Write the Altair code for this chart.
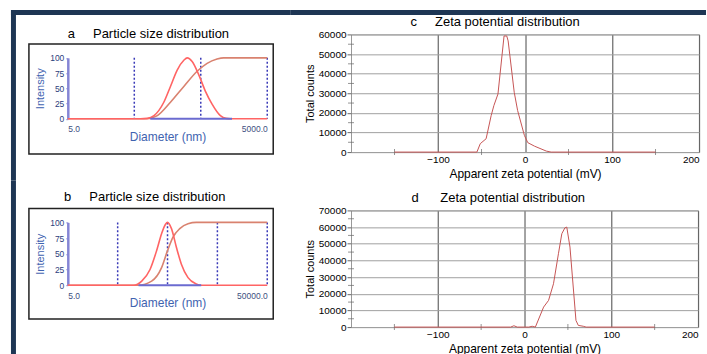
import altair as alt
import pandas as pd

# ---------------- data ----------------
# panel a: particle size distribution (intensity %, diameter nm)
a_dist_d = [5, 62, 78, 99, 139, 175, 221, 278, 312, 371, 467, 588, 740, 986, 1200, 1393, 5000]
a_dist_i = [0, 0, 0.5, 5, 27, 53, 80, 96, 100, 94, 72, 45, 24, 5, 0.5, 0, 0]
a_cum_d = [5, 78, 111, 175, 278, 441, 623, 879, 1106, 5000]
a_cum_i = [0, 0, 5, 27, 53, 78, 91, 98, 100, 100]
a_blue_d = [87, 1475]
a_marks = [50, 500, 5000]
a_domain = [5, 5000]

# panel b
b_dist_d = [5, 104, 125, 152, 223, 302, 380, 456, 500, 600, 755, 948, 1288, 1883, 2368, 50000]
b_dist_i = [0, 0, 1.5, 6.5, 25, 55, 82, 97, 100, 90, 60, 33.5, 12, 2, 0, 0]
b_cum_d = [5, 131, 240, 380, 500, 648, 879, 1288, 1883, 50000]
b_cum_i = [0, 0, 6.5, 28, 55, 77, 90, 98, 100, 100]
b_blue_d = [131, 2368]
b_marks = [50, 500, 5000, 50000]
b_domain = [5, 50000]

# panel c: zeta potential distribution
c_mv = [-150, -55.3, -51.4, -44.7, -38.9, -35.8, -31.1, -24.1, -21.0, -19.4, -12.4, -8.5, -0.7, 3.2, 11.0, 24.5, 30, 150]
c_counts = [0, 0, 4300, 6800, 18600, 23700, 29600, 59200, 59200, 56700, 30500, 21200, 8500, 4800, 3000, 500, 0, 0]

# panel d
d_mv = [-150, -16, -12.2, -8.4, 5, 8.8, 12.5, 22, 27.7, 33.4, 39.1, 43, 46.5, 48.7, 52.4, 59.3, 62, 67.7, 71, 150]
d_counts = [0, 0, 800, 0, 0, 500, 0, 12000, 16000, 26000, 44000, 56000, 59500, 60000, 48000, 4000, 1000, 500, 0, 0]

zeta_ticks = [-100, 0, 100, 200]
zeta_minor = [-150, -50, 50, 150]

NB = "\u00a0"
FONT = "Liberation Sans"
NAVY = "#1e3654"
one = pd.DataFrame({"k": [0]})


def prect(x, x2, y, y2, **kw):
    """decoration rectangle in panel pixel coordinates"""
    return alt.Chart(one).mark_rect(**kw).encode(
        x=alt.value(x), x2=alt.value(x2), y=alt.value(y), y2=alt.value(y2))


def ptext(txt, x, y):
    return alt.Chart(one).mark_text(align="left", baseline="middle", fontSize=13,
                                    color="black", font=FONT).encode(
        x=alt.value(x), y=alt.value(y), text=alt.value(txt))


def size_panel(title, tx, ty, dist_d, dist_i, cum_d, cum_i, blue_d, marks, dom,
               w, h, top, frame_y, deco):
    # the view is h tall; the plot itself occupies y in [top, h]
    xs = alt.Scale(type="log", domain=dom, nice=False)
    ys = alt.Scale(domain=[0, 100], nice=False, range=[h, top])
    xenc = alt.X("d:Q", scale=xs, axis=alt.Axis(
        values=dom, format=".1f", labelFlush=True, labelFontSize=8.5, labelColor="#3d4f80",
        labelPadding=6, domain=False, ticks=False, grid=False, title="Diameter (nm)",
        titleColor="#3f63b0", titleFontSize=12, titleFontWeight="normal", titlePadding=-2))
    yenc = alt.Y("v:Q", scale=ys, axis=alt.Axis(
        values=[0, 25, 50, 75, 100], domainColor="#8585d5", domainWidth=2.5, tickColor="#8585d5",
        tickSize=2, labelFontSize=8.5, labelColor="#2c3d7c", labelPadding=2, grid=False,
        title="Intensity", titleColor="#3f63b0", titleFontSize=11, titleFontWeight="normal",
        titlePadding=4.5))
    frame = prect(-39, 206, frame_y[0], frame_y[1], fill="transparent", stroke="#222", strokeWidth=1.5)
    rules = alt.Chart(pd.DataFrame({"d": marks, "v": [100] * len(marks), "v0": [0] * len(marks)})).mark_rule(
        color="#3a3ab8", strokeDash=[2, 2], strokeWidth=1.5).encode(x=xenc, y=yenc, y2="v0:Q")
    cum = alt.Chart(pd.DataFrame({"d": cum_d, "v": cum_i})).mark_line(
        color="#d9826f", strokeWidth=1.6, interpolate="monotone").encode(x=xenc, y=yenc)
    dist = alt.Chart(pd.DataFrame({"d": dist_d, "v": dist_i})).mark_line(
        color="#ff6464", strokeWidth=1.6, interpolate="monotone").encode(x=xenc, y=yenc)
    blue = alt.Chart(pd.DataFrame({"d": blue_d, "v": [0, 0]})).mark_line(
        color="#6b6bd0", strokeWidth=2).encode(x=xenc, y=yenc)
    ttl = ptext(title, tx, ty)
    return alt.layer(*deco, frame, rules, cum, dist, blue, ttl).properties(width=w, height=h)


def zeta_panel(title, tx, ty, mv, counts, ymax, w, h, deco):
    xs = alt.Scale(domain=[-200, 200], nice=False, zero=False)
    ys = alt.Scale(domain=[0, ymax], nice=False)
    xenc = alt.X("mv:Q", scale=xs, axis=alt.Axis(
        values=zeta_ticks, grid=True, gridColor="#666", gridWidth=1.2, domain=False, ticks=False,
        labelFontSize=10, labelColor="black", labelPadding=2.5, title="Apparent zeta potential (mV)",
        titleFontSize=12, titleFontWeight="normal", titleColor="black", titlePadding=3.5))
    yenc = alt.Y("counts:Q", scale=ys, axis=alt.Axis(
        values=list(range(0, ymax + 1, 10000)), format="d", grid=True, gridColor="#a0a0a0",
        domain=False, tickSize=4, tickColor="#666", labelFontSize=10, labelColor="black",
        labelPadding=1, title="Total counts", titleFontSize=11, titleFontWeight="normal",
        titleColor="black", titlePadding=3))
    minor_y = list(range(5000, ymax, 10000))
    ymin = pd.DataFrame({"mv": [-200] * len(minor_y), "counts": minor_y})
    xmin = pd.DataFrame({"mv": zeta_minor, "counts": [0] * len(zeta_minor)})
    yt = alt.Chart(ymin).mark_tick(orient="horizontal", size=6, thickness=1, color="#666").encode(x=xenc, y=yenc)
    xt = alt.Chart(xmin).mark_tick(orient="vertical", size=6, thickness=1, color="#666").encode(x=xenc, y=yenc)
    line = alt.Chart(pd.DataFrame({"mv": mv, "counts": counts})).mark_line(
        color="#c65454", strokeWidth=1).encode(x=xenc, y=yenc)
    ttl = ptext(title, tx, ty)
    return alt.layer(*deco, yt, xt, line, ttl).properties(
        width=w, height=h, view=alt.ViewBackground(stroke="#999", strokeWidth=1))


# flush grid: origins (page px) a (67,33.5)  c (351,33.5)  b (67,210)  d (351,210)
pa = size_panel("a" + NB * 5 + "Particle size distribution", 0, -0.5,
                a_dist_d, a_dist_i, a_cum_d, a_cum_i, a_blue_d, a_marks, a_domain,
                200, 84.5, 23.5, (9.5, 120),
                [prect(-57, 223, -24.5, -19.5, color=NAVY), prect(-57, -52, -24.5, 146.5, color=NAVY)])
pc = zeta_panel("c" + NB * 5 + "Zeta potential distribution", 59.7, -12.5,
                c_mv, c_counts, 60000, 349, 118,
                [prect(-61, 356, -24.5, -19.5, color=NAVY)])
pb = size_panel("b" + NB * 5 + "Particle size distribution", -3.7, -13,
                b_dist_d, b_dist_i, b_cum_d, b_cum_i, b_blue_d, b_marks, b_domain,
                200, 75, 12, (-2, 109),
                [prect(-57, -52, -30, 150, color=NAVY)])
pd_ = zeta_panel("d" + NB * 6 + "Zeta potential distribution", 60.7, -12,
                 d_mv, d_counts, 70000, 348, 117, [])

chart = alt.concat(
    pa, pc, pb, pd_,
    columns=2, spacing={"row": 58.5, "column": 84}, align="each", bounds="flush",
).properties(
    padding={"left": 10, "top": 9, "right": 0, "bottom": 0},
    background="white",
).configure(font=FONT).configure_view(stroke="transparent")

chart.save("out.html", embed_options={"renderer": "svg", "actions": False})
